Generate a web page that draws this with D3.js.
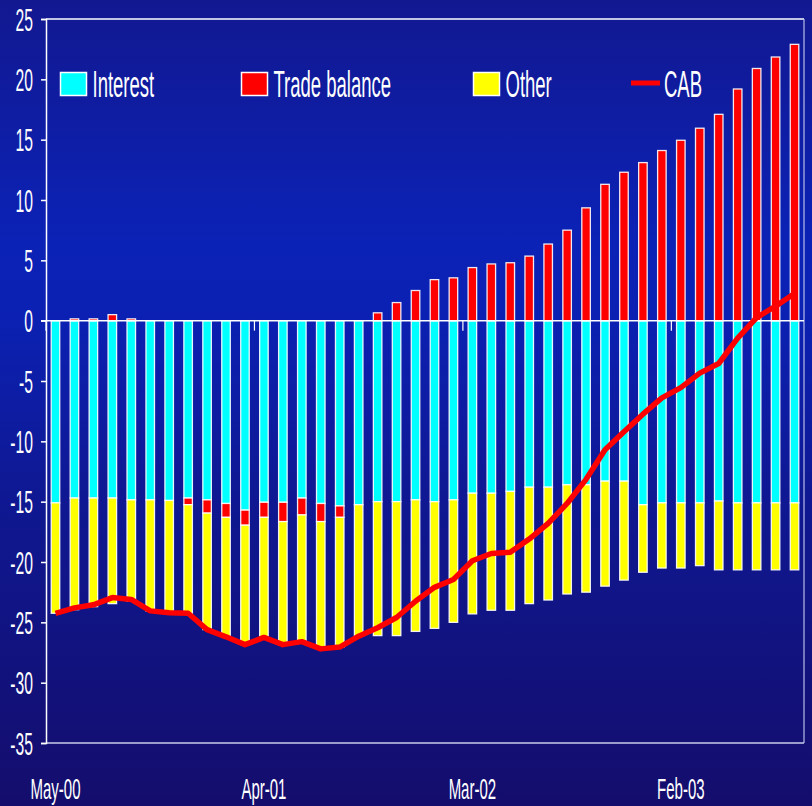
<!DOCTYPE html>
<html><head><meta charset="utf-8">
<script src="https://cdn.jsdelivr.net/npm/d3@7"></script>
<style>html,body{margin:0;padding:0;background:#111a8e;}svg{display:block;}</style>
</head><body>
<svg id="chart" width="812" height="806"></svg>
<script>
const months = ["May-00","Jun-00","Jul-00","Aug-00","Sep-00","Oct-00","Nov-00","Dec-00","Jan-01","Feb-01","Mar-01","Apr-01","May-01","Jun-01","Jul-01","Aug-01","Sep-01","Oct-01","Nov-01","Dec-01","Jan-02","Feb-02","Mar-02","Apr-02","May-02","Jun-02","Jul-02","Aug-02","Sep-02","Oct-02","Nov-02","Dec-02","Jan-03","Feb-03","Mar-03","Apr-03","May-03","Jun-03","Jul-03","Aug-03"];
const interest = [-15.1,-14.7,-14.7,-14.7,-14.85,-14.85,-14.9,-14.7,-14.85,-15.15,-15.7,-15.05,-15.05,-14.7,-15.15,-15.35,-15.25,-15.0,-15.0,-14.85,-15.0,-14.85,-14.3,-14.3,-14.15,-13.8,-13.8,-13.6,-13.6,-13.3,-13.3,-15.25,-15.1,-15.1,-15.1,-14.95,-15.1,-15.1,-15.1,-15.1];
const tradeBalance = [0,0.15,0.15,0.5,0.15,0,0,-0.55,-1.1,-1.15,-1.25,-1.25,-1.6,-1.4,-1.5,-0.95,0,0.65,1.5,2.5,3.4,3.55,4.4,4.7,4.8,5.35,6.35,7.5,9.35,11.3,12.3,13.1,14.1,14.95,15.95,17.1,19.2,20.9,21.85,22.9];
const other = [-9.15,-9.25,-9.0,-8.75,-8.4,-9.2,-9.3,-9.0,-9.65,-9.9,-9.9,-9.95,-10.2,-10.5,-10.55,-10.75,-10.9,-11.1,-11.1,-10.9,-10.5,-10.15,-10.0,-9.7,-9.85,-9.65,-9.35,-9.05,-8.9,-8.7,-8.2,-5.6,-5.4,-5.4,-5.2,-5.7,-5.55,-5.55,-5.55,-5.55];
const cab = [-24.25,-23.8,-23.55,-22.95,-23.1,-24.05,-24.2,-24.25,-25.6,-26.2,-26.85,-26.25,-26.85,-26.6,-27.2,-27.05,-26.15,-25.45,-24.6,-23.25,-22.1,-21.45,-19.9,-19.3,-19.2,-18.1,-16.8,-15.15,-13.15,-10.7,-9.2,-7.75,-6.4,-5.55,-4.35,-3.55,-1.45,0.25,1.2,2.25];
const yTicks = [25,20,15,10,5,0,-5,-10,-15,-20,-25,-30,-35];
const xLabels = ["May-00","Apr-01","Mar-02","Feb-03"];
const seriesNames = ["Interest","Trade balance","Other","CAB"];
const colors = {"Interest":"#00ffff","Trade balance":"#ff0000","Other":"#ffff00","CAB":"#ff0000"};

(function(){
const svg = d3.select("#chart");
const W = 812, H = 806;
const mLeft = 46, mRight = 804, mTop = 19, mBottom = 743;

const defs = svg.append("defs");
const grad = defs.append("linearGradient").attr("id","bg").attr("x1",0).attr("y1",0).attr("x2",0).attr("y2",1);
[[0,"#121890"],[0.3,"#0b22b6"],[0.38,"#0b21b4"],[0.62,"#0f1892"],[1,"#140d6c"]].forEach(([o,c])=>grad.append("stop").attr("offset",o).attr("stop-color",c));
svg.append("rect").attr("width",W).attr("height",H).attr("fill","url(#bg)");

const x = d3.scaleBand().domain(d3.range(months.length)).range([mLeft,mRight]).paddingInner(0.55).paddingOuter(0.275);
const y = d3.scaleLinear().domain([-35,25]).range([mBottom,mTop]);

const segs = [];
months.forEach((m,i)=>{
  let negBase = 0, posBase = 0;
  const parts = [["Interest",interest[i]],["Trade balance",tradeBalance[i]],["Other",other[i]]];
  parts.forEach(([name,v])=>{
    if (v === 0) return;
    if (v < 0) { segs.push({i,name,y0:negBase,y1:negBase+v}); negBase += v; }
    else { segs.push({i,name,y0:posBase,y1:posBase+v}); posBase += v; }
  });
});

svg.append("g").selectAll("rect").data(segs).join("rect")
  .attr("x",d=>x(d.i))
  .attr("width",x.bandwidth())
  .attr("y",d=>y(Math.max(d.y0,d.y1)))
  .attr("height",d=>Math.abs(y(d.y0)-y(d.y1)))
  .attr("fill",d=>colors[d.name])
  .attr("stroke","#ffffff").attr("stroke-opacity",0.9).attr("stroke-width",1.3);

svg.append("line").attr("x1",mLeft).attr("x2",mRight).attr("y1",mTop).attr("y2",mTop).attr("stroke","#ffffff").attr("stroke-width",1.5);
svg.append("line").attr("x1",mRight).attr("x2",mRight).attr("y1",mTop).attr("y2",mBottom).attr("stroke","#b8bce8").attr("stroke-width",1.2);
svg.append("line").attr("x1",mLeft).attr("x2",mRight).attr("y1",mBottom).attr("y2",mBottom).attr("stroke","#c8cce8").attr("stroke-width",1.5);

const yAxis = d3.axisLeft(y).tickValues(yTicks).tickSize(5).tickFormat("");
const gy = svg.append("g").attr("transform",`translate(${mLeft},0)`).call(yAxis);
gy.select(".domain").attr("stroke","#ffffff").attr("stroke-width",1.5);
gy.selectAll(".tick line").attr("stroke","#ffffff").attr("stroke-width",1.5);
svg.append("g").selectAll("text").data(yTicks).join("text")
  .attr("transform",d=>`translate(33,${y(d)}) scale(0.49,1)`)
  .attr("dy","0.36em").attr("text-anchor","end")
  .attr("fill","#ffffff").attr("font-family","Liberation Sans, Arial, sans-serif").attr("font-size",32)
  .text(d=>d);

svg.append("line").attr("x1",mLeft-5).attr("x2",mRight).attr("y1",y(0)).attr("y2",y(0)).attr("stroke","#ffffff").attr("stroke-width",1.5);
const tickIdx = xLabels.map(l=>months.indexOf(l));
svg.append("g").selectAll("line").data(tickIdx).join("line")
  .attr("x1",d=>x(d)-x.step()*x.paddingInner()/2).attr("x2",d=>x(d)-x.step()*x.paddingInner()/2)
  .attr("y1",y(0)).attr("y2",y(0)+10).attr("stroke","#ffffff").attr("stroke-width",1.2);

svg.append("g").selectAll("text").data(xLabels).join("text")
  .attr("transform",d=>`translate(${x(months.indexOf(d))+x.bandwidth()/2},799) scale(0.5,1)`)
  .attr("text-anchor","middle").attr("fill","#ffffff")
  .attr("font-family","Liberation Sans, Arial, sans-serif").attr("font-size",30)
  .text(d=>d);

const line = d3.line().x((d,i)=>x(i)+x.bandwidth()/2).y(d=>y(d)).curve(d3.curveLinear);
svg.append("path").datum(cab).attr("d",line).attr("fill","none")
  .attr("stroke",colors["CAB"]).attr("stroke-width",5.5).attr("stroke-linejoin","round").attr("stroke-linecap","butt");

const legendX = [60,241,473,631];
const lg = svg.append("g");
seriesNames.forEach((name,k)=>{
  const g = lg.append("g");
  if (name === "CAB") {
    g.append("line").attr("x1",legendX[k]).attr("x2",legendX[k]+29).attr("y1",83).attr("y2",83)
      .attr("stroke",colors[name]).attr("stroke-width",5);
    g.append("text").attr("transform",`translate(${legendX[k]+33},96.5) scale(0.5,1)`)
      .attr("fill","#ffffff").attr("font-family","Liberation Sans, Arial, sans-serif").attr("font-size",37).text(name);
  } else {
    g.append("rect").attr("x",legendX[k]+0.5).attr("y",72.5).attr("width",26).attr("height",23)
      .attr("fill",colors[name]).attr("stroke","#ffffff").attr("stroke-width",1.5);
    g.append("text").attr("transform",`translate(${legendX[k]+32.5},96.5) scale(0.5,1)`)
      .attr("fill","#ffffff").attr("font-family","Liberation Sans, Arial, sans-serif").attr("font-size",37).text(name);
  }
});
})();
</script>
</body></html>
